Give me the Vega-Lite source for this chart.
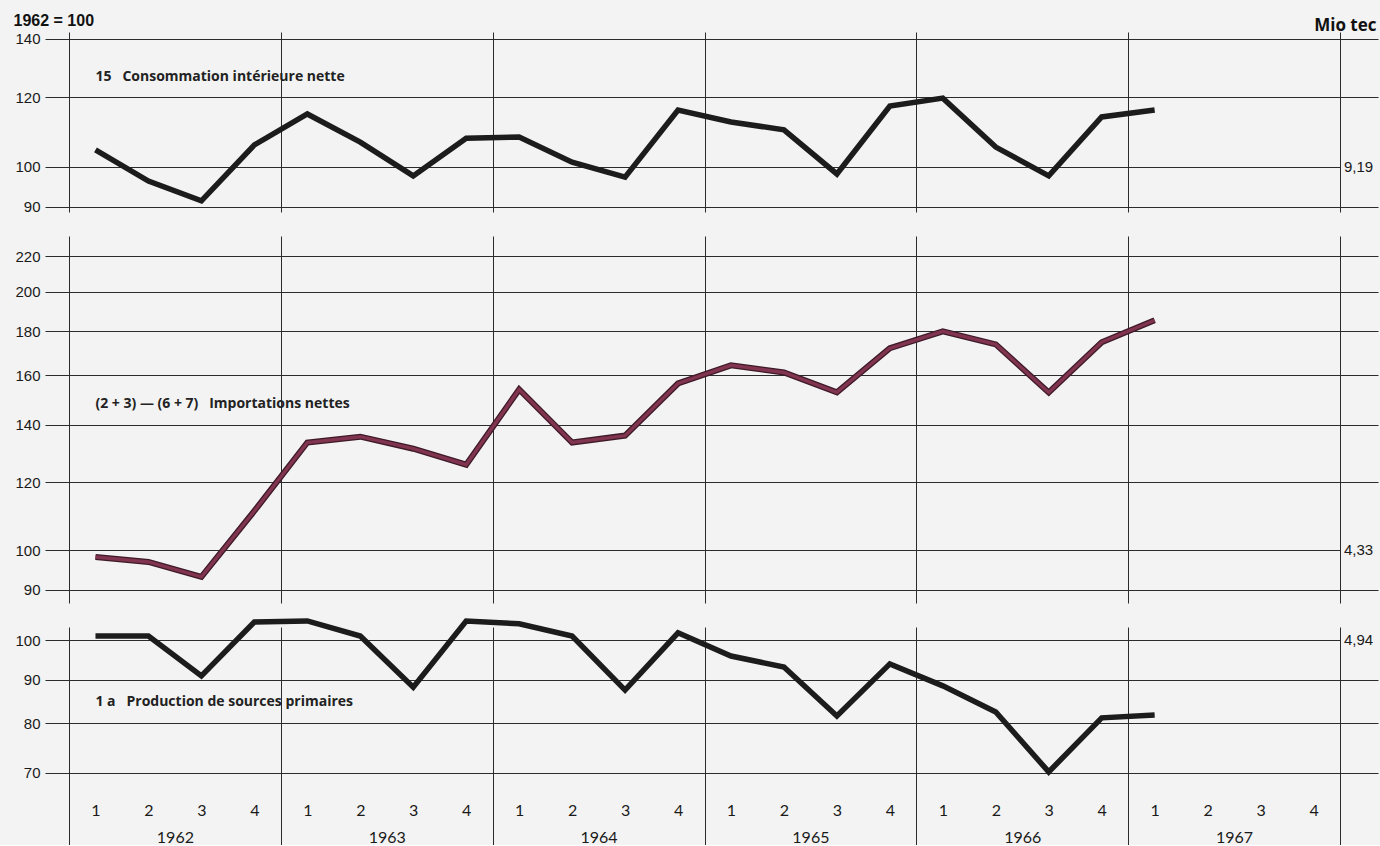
{
  "$schema": "https://vega.github.io/schema/vega-lite/v6.json",
  "background": "#f3f3f3",
  "padding": {"left": 13, "top": 12, "right": 0, "bottom": 0},
  "bounds": "flush",
  "spacing": 24,
  "config": {
    "view": {"stroke": null},
    "axis": {
      "labelFont": "Liberation Sans",
      "labelFontSize": 15,
      "labelColor": "#1a1a1a",
      "tickColor": "#2b2b2b",
      "tickWidth": 1,
      "gridColor": "#2b2b2b",
      "gridOpacity": 1,
      "gridWidth": 1,
      "domain": false,
      "labelFlush": false,
      "labelOverlap": false,
      "title": null
    }
  },
  "datasets": {
    "series": [
      {"panel": "conso", "t": 1962.125, "index": 104.5},
      {"panel": "conso", "t": 1962.375, "index": 96.3},
      {"panel": "conso", "t": 1962.625, "index": 91.4},
      {"panel": "conso", "t": 1962.875, "index": 105.9},
      {"panel": "conso", "t": 1963.125, "index": 114.9},
      {"panel": "conso", "t": 1963.375, "index": 106.7},
      {"panel": "conso", "t": 1963.625, "index": 97.6},
      {"panel": "conso", "t": 1963.875, "index": 107.8},
      {"panel": "conso", "t": 1964.125, "index": 108.1},
      {"panel": "conso", "t": 1964.375, "index": 101.2},
      {"panel": "conso", "t": 1964.625, "index": 97.3},
      {"panel": "conso", "t": 1964.875, "index": 116.1},
      {"panel": "conso", "t": 1965.125, "index": 112.5},
      {"panel": "conso", "t": 1965.375, "index": 110.2},
      {"panel": "conso", "t": 1965.625, "index": 98.1},
      {"panel": "conso", "t": 1965.875, "index": 117.3},
      {"panel": "conso", "t": 1966.125, "index": 119.8},
      {"panel": "conso", "t": 1966.375, "index": 105.3},
      {"panel": "conso", "t": 1966.625, "index": 97.6},
      {"panel": "conso", "t": 1966.875, "index": 114.0},
      {"panel": "conso", "t": 1967.125, "index": 116.1},
      {"panel": "import", "t": 1962.125, "index": 98.2},
      {"panel": "import", "t": 1962.375, "index": 96.9},
      {"panel": "import", "t": 1962.625, "index": 93.1},
      {"panel": "import", "t": 1962.875, "index": 111.1},
      {"panel": "import", "t": 1963.125, "index": 133.5},
      {"panel": "import", "t": 1963.375, "index": 135.6},
      {"panel": "import", "t": 1963.625, "index": 131.3},
      {"panel": "import", "t": 1963.875, "index": 125.8},
      {"panel": "import", "t": 1964.125, "index": 153.9},
      {"panel": "import", "t": 1964.375, "index": 133.5},
      {"panel": "import", "t": 1964.625, "index": 136.0},
      {"panel": "import", "t": 1964.875, "index": 156.4},
      {"panel": "import", "t": 1965.125, "index": 164.2},
      {"panel": "import", "t": 1965.375, "index": 161.1},
      {"panel": "import", "t": 1965.625, "index": 152.7},
      {"panel": "import", "t": 1965.875, "index": 171.9},
      {"panel": "import", "t": 1966.125, "index": 179.9},
      {"panel": "import", "t": 1966.375, "index": 173.7},
      {"panel": "import", "t": 1966.625, "index": 152.7},
      {"panel": "import", "t": 1966.875, "index": 174.7},
      {"panel": "import", "t": 1967.125, "index": 185.3},
      {"panel": "prod", "t": 1962.125, "index": 101.2},
      {"panel": "prod", "t": 1962.375, "index": 101.2},
      {"panel": "prod", "t": 1962.625, "index": 90.9},
      {"panel": "prod", "t": 1962.875, "index": 105.1},
      {"panel": "prod", "t": 1963.125, "index": 105.4},
      {"panel": "prod", "t": 1963.375, "index": 101.2},
      {"panel": "prod", "t": 1963.625, "index": 88.2},
      {"panel": "prod", "t": 1963.875, "index": 105.4},
      {"panel": "prod", "t": 1964.125, "index": 104.6},
      {"panel": "prod", "t": 1964.375, "index": 101.2},
      {"panel": "prod", "t": 1964.625, "index": 87.5},
      {"panel": "prod", "t": 1964.875, "index": 102.1},
      {"panel": "prod", "t": 1965.125, "index": 95.9},
      {"panel": "prod", "t": 1965.375, "index": 93.1},
      {"panel": "prod", "t": 1965.625, "index": 81.6},
      {"panel": "prod", "t": 1965.875, "index": 93.9},
      {"panel": "prod", "t": 1966.125, "index": 88.5},
      {"panel": "prod", "t": 1966.375, "index": 82.5},
      {"panel": "prod", "t": 1966.625, "index": 70.2},
      {"panel": "prod", "t": 1966.875, "index": 81.2},
      {"panel": "prod", "t": 1967.125, "index": 81.8}
    ],
    "notes": [
      {"panel": "conso", "t": 1962.125, "index": 126.7, "label": "15\u00a0\u00a0\u00a0Consommation intérieure nette"},
      {"panel": "import", "t": 1962.125, "index": 148.2, "label": "(2 + 3) — (6 + 7)\u00a0\u00a0\u00a0Importations nettes"},
      {"panel": "prod", "t": 1962.125, "index": 84.7, "label": "1 a\u00a0\u00a0\u00a0Production de sources primaires"}
    ],
    "ends": [
      {"panel": "conso", "t": 1968, "index": 100, "label": "9,19"},
      {"panel": "import", "t": 1968, "index": 100, "label": "4,33"},
      {"panel": "prod", "t": 1968, "index": 100, "label": "4,94"}
    ]
  },
  "vconcat": [
    {
      "width": 1271,
      "height": 180,
      "resolve": {"axis": {"x": "independent", "y": "independent"}},
      "layer": [
        {
          "data": {"name": "series"},
          "transform": [{"filter": "datum.panel == 'conso'"}],
          "mark": {"type": "line", "color": "#1c1c1c", "strokeWidth": 5.5, "strokeJoin": "miter", "strokeCap": "butt"},
          "encoding": {
            "x": {"field": "t", "type": "quantitative", "scale": {"domain": [1962, 1968], "nice": false, "zero": false},
              "axis": {"values": [1962, 1963, 1964, 1965, 1966, 1967, 1968], "grid": true, "labels": false, "ticks": false}},
            "y": {"field": "index", "type": "quantitative", "scale": {"type": "log", "domain": [88.75, 142.6], "nice": false},
              "axis": {"values": [90, 100, 120, 140], "grid": true, "tickSize": 24, "labelPadding": 5,
                "title": "1962 = 100", "titleAngle": 0, "titleX": -56, "titleY": -7, "titleAlign": "left", "titleBaseline": "alphabetic",
                "titleFont": "Liberation Sans", "titleFontSize": 16, "titleFontWeight": "bold", "titleColor": "#111"}}
          }
        },
        {
          "data": {"name": "notes"},
          "transform": [{"filter": "datum.panel == 'conso'"}],
          "mark": {"type": "text", "align": "left", "baseline": "middle", "font": "Open Sans", "fontSize": 14, "fontWeight": "bold", "color": "#222"},
          "encoding": {
            "x": {"field": "t", "type": "quantitative", "scale": {"domain": [1962, 1968], "nice": false, "zero": false}, "axis": null},
            "y": {"field": "index", "type": "quantitative", "scale": {"type": "log", "domain": [88.75, 142.6], "nice": false}, "axis": null},
            "text": {"field": "label"}
          }
        },
        {
          "data": {"name": "ends"},
          "transform": [{"filter": "datum.panel == 'conso'"}],
          "mark": {"type": "text", "align": "left", "baseline": "middle", "dx": 4, "font": "Liberation Sans", "fontSize": 15, "color": "#1a1a1a"},
          "encoding": {
            "x": {"field": "t", "type": "quantitative", "scale": {"domain": [1962, 1968], "nice": false, "zero": false}, "axis": null},
            "y": {"field": "index", "type": "quantitative", "scale": {"type": "log", "domain": [88.75, 142.6], "nice": false},
              "axis": {"orient": "right", "values": [90, 120, 140], "tickSize": 38, "labels": false, "grid": false,
                "title": "Mio tec", "titleAngle": 0, "titleX": 36, "titleY": -2, "titleAlign": "right", "titleBaseline": "alphabetic",
                "titleFont": "Open Sans", "titleFontSize": 17, "titleFontWeight": "bold", "titleColor": "#111"}},
            "text": {"field": "label"}
          }
        }
      ]
    },
    {
      "width": 1271,
      "height": 367,
      "resolve": {"axis": {"x": "independent", "y": "independent"}},
      "layer": [
        {
          "data": {"name": "series"},
          "transform": [{"filter": "datum.panel == 'import'"}],
          "mark": {"type": "line", "color": "#3e1a26", "strokeWidth": 6, "strokeJoin": "miter", "strokeCap": "butt"},
          "encoding": {
            "x": {"field": "t", "type": "quantitative", "scale": {"domain": [1962, 1968], "nice": false, "zero": false},
              "axis": {"values": [1962, 1963, 1964, 1965, 1966, 1967, 1968], "grid": true, "labels": false, "ticks": false}},
            "y": {"field": "index", "type": "quantitative", "scale": {"type": "log", "domain": [86.8, 232.3], "nice": false},
              "axis": {"values": [90, 100, 120, 140, 160, 180, 200, 220], "grid": true, "tickSize": 24, "labelPadding": 5}}
          }
        },
        {
          "data": {"name": "series"},
          "transform": [{"filter": "datum.panel == 'import'"}],
          "mark": {"type": "line", "color": "#80344f", "strokeWidth": 3.4, "strokeJoin": "miter", "strokeCap": "butt"},
          "encoding": {
            "x": {"field": "t", "type": "quantitative", "scale": {"domain": [1962, 1968], "nice": false, "zero": false}, "axis": null},
            "y": {"field": "index", "type": "quantitative", "scale": {"type": "log", "domain": [86.8, 232.3], "nice": false}, "axis": null}
          }
        },
        {
          "data": {"name": "notes"},
          "transform": [{"filter": "datum.panel == 'import'"}],
          "mark": {"type": "text", "align": "left", "baseline": "middle", "font": "Open Sans", "fontSize": 14, "fontWeight": "bold", "color": "#222"},
          "encoding": {
            "x": {"field": "t", "type": "quantitative", "scale": {"domain": [1962, 1968], "nice": false, "zero": false}, "axis": null},
            "y": {"field": "index", "type": "quantitative", "scale": {"type": "log", "domain": [86.8, 232.3], "nice": false}, "axis": null},
            "text": {"field": "label"}
          }
        },
        {
          "data": {"name": "ends"},
          "transform": [{"filter": "datum.panel == 'import'"}],
          "mark": {"type": "text", "align": "left", "baseline": "middle", "dx": 4, "font": "Liberation Sans", "fontSize": 15, "color": "#1a1a1a"},
          "encoding": {
            "x": {"field": "t", "type": "quantitative", "scale": {"domain": [1962, 1968], "nice": false, "zero": false}, "axis": null},
            "y": {"field": "index", "type": "quantitative", "scale": {"type": "log", "domain": [86.8, 232.3], "nice": false},
              "axis": {"orient": "right", "values": [90, 120, 140, 160, 180, 200, 220], "tickSize": 38, "labels": false, "grid": false}},
            "text": {"field": "label"}
          }
        }
      ]
    },
    {
      "width": 1271,
      "height": 218,
      "resolve": {"axis": {"x": "independent", "y": "independent"}},
      "layer": [
        {
          "data": {"name": "series"},
          "transform": [{"filter": "datum.panel == 'prod'"}],
          "mark": {"type": "line", "color": "#1c1c1c", "strokeWidth": 5.5, "strokeJoin": "miter", "strokeCap": "butt"},
          "encoding": {
            "x": {"field": "t", "type": "quantitative", "scale": {"domain": [1962, 1968], "nice": false, "zero": false},
              "axis": {"orient": "bottom", "offset": -42, "values": [1962.125, 1962.375, 1962.625, 1962.875, 1963.125, 1963.375, 1963.625, 1963.875, 1964.125, 1964.375, 1964.625, 1964.875, 1965.125, 1965.375, 1965.625, 1965.875, 1966.125, 1966.375, 1966.625, 1966.875, 1967.125, 1967.375, 1967.625, 1967.875],
                "labelExpr": "round((datum.value - floor(datum.value)) * 4 + 0.5)", "ticks": false, "grid": false,
                "labelFont": "Lato", "labelFontSize": 16, "labelBaseline": "middle", "labelPadding": 7}},
            "y": {"field": "index", "type": "quantitative", "scale": {"type": "log", "domain": [57.66, 103.7], "nice": false},
              "axis": {"values": [70, 80, 90, 100], "grid": true, "tickSize": 24, "labelPadding": 5}}
          }
        },
        {
          "data": {"name": "notes"},
          "transform": [{"filter": "datum.panel == 'prod'"}],
          "mark": {"type": "text", "align": "left", "baseline": "middle", "font": "Open Sans", "fontSize": 14, "fontWeight": "bold", "color": "#222"},
          "encoding": {
            "x": {"field": "t", "type": "quantitative", "scale": {"domain": [1962, 1968], "nice": false, "zero": false}, "axis": null},
            "y": {"field": "index", "type": "quantitative", "scale": {"type": "log", "domain": [57.66, 103.7], "nice": false}, "axis": null},
            "text": {"field": "label"}
          }
        },
        {
          "data": {"name": "ends"},
          "transform": [{"filter": "datum.panel == 'prod'"}],
          "mark": {"type": "text", "align": "left", "baseline": "middle", "dx": 4, "font": "Liberation Sans", "fontSize": 15, "color": "#1a1a1a"},
          "encoding": {
            "x": {"field": "t", "type": "quantitative", "scale": {"domain": [1962, 1968], "nice": false, "zero": false},
              "axis": {"orient": "top", "offset": -218, "values": [1962, 1963, 1964, 1965, 1966, 1967, 1968], "grid": true, "ticks": false,
                "labelExpr": "datum.value < 1968 ? format(datum.value, 'd') : ''", "labelOffset": 105.9,
                "labelFont": "Lato", "labelFontSize": 16, "labelBaseline": "middle", "labelPadding": 8}},
            "y": {"field": "index", "type": "quantitative", "scale": {"type": "log", "domain": [57.66, 103.7], "nice": false},
              "axis": {"orient": "right", "values": [70, 80, 90], "tickSize": 38, "labels": false, "grid": false}},
            "text": {"field": "label"}
          }
        }
      ]
    }
  ]
}
